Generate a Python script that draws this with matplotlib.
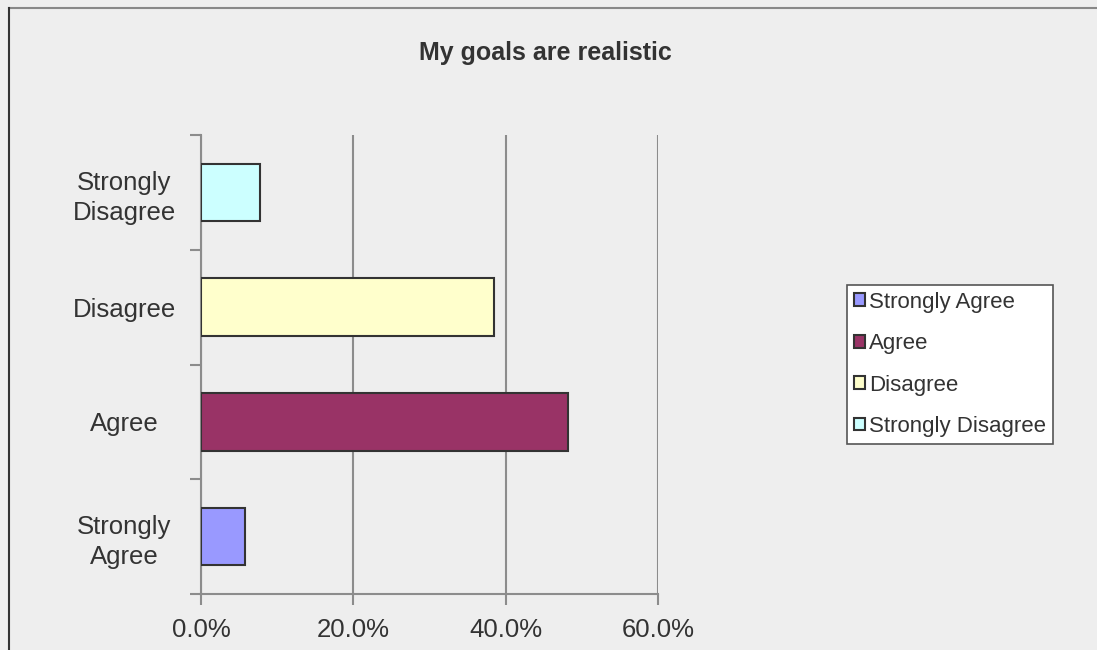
import matplotlib.pyplot as plt
from matplotlib.lines import Line2D
from matplotlib.patches import Patch

plt.rcParams['font.family'] = ['Liberation Sans', 'DejaVu Sans']

categories = ["Strongly\nAgree", "Agree", "Disagree", "Strongly\nDisagree"]
legend_names = ["Strongly Agree", "Agree", "Disagree", "Strongly Disagree"]
values = [5.8, 48.2, 38.5, 7.7]
colors = ["#9999FF", "#993366", "#FFFFCC", "#CCFFFF"]
x_ticks = [0, 20, 40, 60]
x_labels = ["0.0%", "20.0%", "40.0%", "60.0%"]

bg = "#EEEEEE"
grey = "#8C8C8C"
txt = "#333333"

fig = plt.figure(figsize=(10.97, 6.5), dpi=100, facecolor=bg)
ax = fig.add_axes([201 / 1097, 1 - 594 / 650, 457 / 1097, 459 / 650])
ax.set_facecolor(bg)

pos = list(range(len(categories)))
ax.barh(pos, values, height=0.5, color=colors, edgecolor="#333333", linewidth=1.5, zorder=3)

ax.set_xlim(0, 60)
ax.set_ylim(-0.5, 3.5)
ax.set_xticks(x_ticks)
ax.set_xticklabels(x_labels)
ax.set_yticks([-0.5, 0.5, 1.5, 2.5, 3.5])
ax.set_yticklabels([])
ax.set_yticks(pos, minor=True)
ax.set_yticklabels(categories, minor=True, multialignment="center", linespacing=1.3)

ax.tick_params(axis="x", direction="out", length=8, width=1.5, color=grey,
               labelsize=18.5, labelcolor=txt, pad=9)
ax.tick_params(axis="y", which="major", direction="out", length=8, width=1.5, color=grey)
ax.tick_params(axis="y", which="minor", length=0, labelsize=18.5, labelcolor=txt, pad=0)
for lbl in ax.get_yticklabels(minor=True):
    lbl.set_horizontalalignment("center")
    lbl.set_x(-0.168)

ax.xaxis.grid(True, color=grey, linewidth=1.5, zorder=0)
for s in ["top", "right"]:
    ax.spines[s].set_visible(False)
for s in ["left", "bottom"]:
    ax.spines[s].set_color(grey)
    ax.spines[s].set_linewidth(1.5)

fig.text(545 / 1097, 1 - 53 / 650, "My goals are realistic", ha="center", va="center",
         fontsize=18, fontweight="bold", color=txt)

handles = [Patch(facecolor=c, edgecolor="#333333", linewidth=1.5) for c in colors]
leg = fig.legend(handles, legend_names, loc="upper left",
                 bbox_to_anchor=(847 / 1097, 1 - 285 / 650),
                 frameon=True, fontsize=16, labelcolor=txt, framealpha=1,
                 handlelength=0.5, handleheight=0.5, handletextpad=0.2,
                 labelspacing=0.92, borderpad=0.3, borderaxespad=0)
leg.get_frame().set_facecolor("white")
leg.get_frame().set_edgecolor("#555555")
leg.get_frame().set_linewidth(1.2)
leg.get_frame().set_boxstyle("square", pad=0)

fig.add_artist(Line2D([9 / 1097, 1], [1 - 8 / 650, 1 - 8 / 650], color="#888888", linewidth=1.5, transform=fig.transFigure))
fig.add_artist(Line2D([9 / 1097, 9 / 1097], [0, 1 - 8 / 650], color="#333333", linewidth=1.5, transform=fig.transFigure))

plt.savefig("out.png", dpi=100, facecolor=bg)
